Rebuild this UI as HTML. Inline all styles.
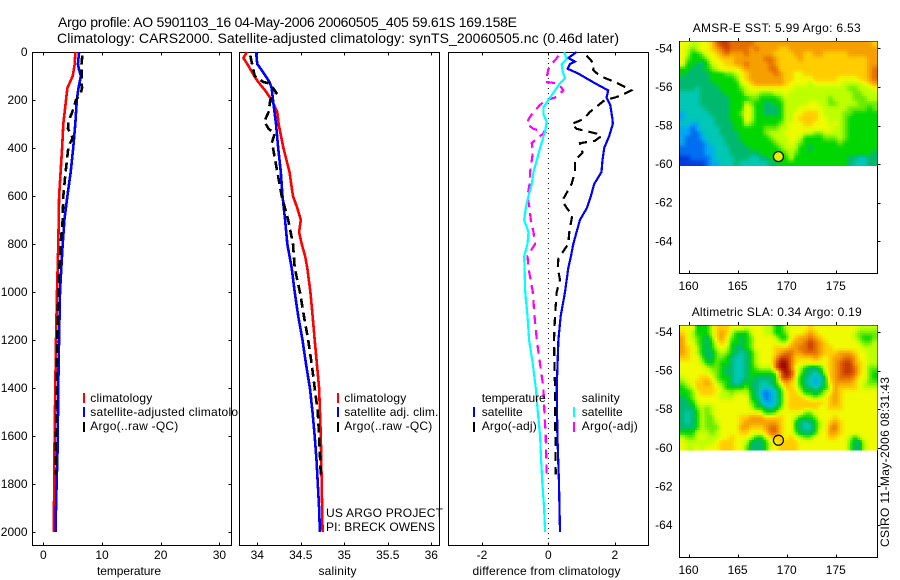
<!DOCTYPE html>
<html>
<head>
<meta charset="utf-8">
<title>Argo profile</title>
<style>
html,body{margin:0;padding:0;background:#fff;}
svg{display:block;}
text{font-family:"Liberation Sans",sans-serif;font-size:12px;fill:#000;}
</style>
</head>
<body>
<svg id="chart" xmlns="http://www.w3.org/2000/svg" width="900" height="580" viewBox="0 0 900 580">
<rect width="900" height="580" fill="#fff"/>
<text x="58" y="27" style="font-size:14px" textLength="459" lengthAdjust="spacing">Argo profile: AO 5901103_16 04-May-2006 20060505_405 59.61S 169.158E</text>
<text x="57" y="43" style="font-size:14px" textLength="562" lengthAdjust="spacing">Climatology: CARS2000. Satellite-adjusted climatology: synTS_20060505.nc (0.46d later)</text>

<g id="p1"></g>
<g>
  <line x1="84" x2="84" y1="393" y2="403" stroke="#f00" stroke-width="2"/>
  <line x1="84" x2="84" y1="407" y2="417" stroke="#00f" stroke-width="2"/>
  <line x1="84" x2="84" y1="422" y2="432" stroke="#000" stroke-width="2"/>
  <text x="90.3" y="402" textLength="62">climatology</text>
  <text x="90.3" y="416" textLength="161">satellite-adjusted climatology</text>
  <text x="90.3" y="430" textLength="88">Argo(..raw -QC)</text>
</g>

<rect x="239.5" y="52.5" width="200" height="493" fill="#fff"/>
<g id="p2"></g>
<g>
  <line x1="338" x2="338" y1="393" y2="403" stroke="#f00" stroke-width="2"/>
  <line x1="338" x2="338" y1="407" y2="417" stroke="#00f" stroke-width="2"/>
  <line x1="338" x2="338" y1="422" y2="432" stroke="#000" stroke-width="2"/>
  <text x="344.3" y="402" textLength="62">climatology</text>
  <text x="344.3" y="416" textLength="94">satellite adj. clim.</text>
  <text x="344.3" y="430" textLength="88">Argo(..raw -QC)</text>
  <text x="326" y="517" textLength="117">US ARGO PROJECT</text>
  <text x="326" y="531" textLength="109">PI: BRECK OWENS</text>
</g>

<rect x="448.5" y="52.5" width="200" height="493" fill="#fff"/>
<g id="p3"></g>
<g>
  <text x="481.7" y="402" textLength="64">temperature</text>
  <text x="581.7" y="402" textLength="38">salinity</text>
  <line x1="474" x2="474" y1="407" y2="417" stroke="#00f" stroke-width="2"/>
  <line x1="474" x2="474" y1="422" y2="432" stroke="#000" stroke-width="2"/>
  <line x1="574" x2="574" y1="407" y2="417" stroke="#0ff" stroke-width="2"/>
  <line x1="574" x2="574" y1="422" y2="432" stroke="#f0f" stroke-width="2"/>
  <text x="481.7" y="416" textLength="41">satellite</text>
  <text x="481.7" y="430" textLength="55">Argo(-adj)</text>
  <text x="581.7" y="416" textLength="41">satellite</text>
  <text x="581.7" y="430" textLength="56">Argo(-adj)</text>
</g>

<text x="97" y="575" textLength="64">temperature</text>
<text x="318.5" y="575" textLength="38">salinity</text>
<text x="472.5" y="575" textLength="148">difference from climatology</text>

<text x="692.7" y="32" textLength="168">AMSR-E SST: 5.99 Argo: 6.53</text>
<g id="m1"></g>
<text x="691.7" y="316" textLength="170">Altimetric SLA: 0.34 Argo: 0.19</text>
<g id="m2"></g>

<text transform="translate(889,547) rotate(-90)" x="0" y="0" textLength="170">CSIRO 11-May-2006 08:31:43</text>
</svg>

<script>
// Depth ticks and axis tick labels
const depthTicks = [0,200,400,600,800,1000,1200,1400,1600,1800,2000];
const tempTicks = [0,10,20,30];
const salTicks = [34,34.5,35,35.5,36];
const diffTicks = [-2,0,2];
const lonTicks = [160,165,170,175];
const latTicks = [-54,-56,-58,-60,-62,-64];

// Temperature profiles
const climTempDepth = [0,50,100,150,200,300,400,500,600,800,1000,1200,1400,1600,1800,2000];
const climTemp = [5.45,5.35,5.0,4.1,3.86,3.4,3.2,2.95,2.7,2.55,2.33,2.16,2.05,1.93,1.88,1.76];
const satTempDepth = [0,50,75,100,150,200,300,400,500,600,700,800,900,1000,1150,1300,1500,1650,1800,1900,2000];
const satTemp = [6.1,5.9,6.1,6.4,6.0,5.7,5.45,5.1,4.66,4.1,3.6,3.3,3.07,2.84,2.73,2.6,2.5,2.44,2.27,2.16,2.1];
const argoTempDepth = [15,50,100,150,170,200,250,290,320,340,360,380,400,500,600,700,800,900,1000,1200,1400,1600,1760];
const argoTemp = [6.65,6.5,6.53,6.6,6.4,5.57,4.94,4.26,4.2,4.66,5,4.55,4.26,3.8,3.4,3.3,2.95,2.73,2.56,2.39,2.27,2.16,2.1];

// Salinity profiles
const climSalDepth = [0,25,50,100,125,160,200,250,300,400,500,550,600,650,700,750,800,850,900,1000,1100,1200,1400,1600,1800,2000];
const climSal = [33.88,33.84,33.885,33.965,34.01,34.09,34.165,34.23,34.245,34.3,34.37,34.39,34.41,34.46,34.5,34.48,34.51,34.55,34.575,34.61,34.636,34.66,34.71,34.73,34.74,34.75];
const satSalDepth = [0,50,75,100,125,150,200,300,400,500,600,700,800,900,1000,1100,1200,1300,1400,1500,1600,1700,1800,1900,2000];
const satSal = [33.985,34,34.05,34.095,34.14,34.165,34.18,34.215,34.24,34.27,34.29,34.32,34.345,34.395,34.43,34.47,34.52,34.56,34.605,34.635,34.66,34.68,34.695,34.71,34.72];
const argoSalDepth = [15,50,100,125,130,150,170,190,200,250,290,320,340,380,400,500,600,700,800,900,1000,1100,1200,1300,1400,1500,1600,1760];
const argoSal = [33.92,33.94,33.97,34.07,34.13,34.18,34.22,34.165,34.15,34.13,34.08,34.13,34.2,34.165,34.18,34.23,34.28,34.355,34.41,34.43,34.49,34.536,34.585,34.625,34.66,34.695,34.71,34.73];

// Differences from climatology
const satDiffTDepth = [0,10,25,40,50,70,90,110,130,160,190,220,280,300,350,400,450,500,550,600,650,700,750,800,850,900,1000,1100,1200,1400,1600,1800,2000];
const satDiffT = [0.85,0.75,0.6,0.8,0.65,0.58,0.9,1.15,1.4,1.8,1.75,1.86,1.93,1.94,1.83,1.68,1.63,1.6,1.38,1.28,1.16,0.95,0.85,0.75,0.68,0.6,0.5,0.37,0.3,0.25,0.27,0.32,0.35];
const argoDiffTDepth = [15,50,75,100,125,150,160,180,190,200,250,280,300,320,340,350,370,380,420,450,500,550,620,650,680,750,800,860,900,950,1000,1100,1200,1400,1760];
const argoDiffT = [1.15,1.38,1.35,1.55,2.0,2.36,2.5,2.2,2.0,1.7,1.25,1.05,0.7,0.85,1.45,1.6,1.4,0.95,1.03,0.8,0.8,0.7,0.42,0.55,0.72,0.63,0.6,0.3,0.28,0.35,0.25,0.2,0.17,0.2,0.22];
const satDiffSDepth = [0,30,50,80,110,130,160,200,230,260,290,330,400,450,500,550,600,650,700,750,800,850,1000,1100,1200,1300,1400,1500,1600,1700,1800,1900,2000];
const satDiffS = [0.48,0.55,0.4,0.43,0.5,0.35,0.2,0,-0.15,-0.15,-0.05,-0.1,-0.25,-0.35,-0.45,-0.5,-0.6,-0.68,-0.73,-0.6,-0.63,-0.73,-0.7,-0.63,-0.58,-0.47,-0.38,-0.32,-0.25,-0.22,-0.18,-0.13,-0.1];
const argoDiffSDepth = [15,30,50,70,90,110,125,130,150,160,190,200,220,250,280,300,320,335,360,380,420,450,500,550,600,650,700,750,800,850,900,1000,1100,1200,1300,1400,1500,1600,1760];
const argoDiffS = [0.3,0.23,0.1,0,-0.03,-0.05,-0.07,0.25,0.4,0.45,0.2,-0.05,-0.25,-0.45,-0.6,-0.65,-0.45,-0.1,-0.35,-0.5,-0.47,-0.5,-0.55,-0.57,-0.63,-0.57,-0.53,-0.45,-0.4,-0.63,-0.6,-0.47,-0.42,-0.35,-0.25,-0.15,-0.12,-0.08,-0.05];

// Map grids: colour class per cell (0 = coldest/lowest .. 13 = warmest/highest), rows north to south
const sstGrid = [
[8,8,7,7,8,8,9,11,12,12,11,11,11,11,11,10,10,10,10,10,10,10,10,10,10,10,10,10,10,10,10,10,10,10,10,10,10,10,10,9],
[8,7,6,7,8,8,9,10,11,12,11,11,11,11,10,11,10,10,10,10,9,9,10,10,10,10,10,10,10,10,10,10,10,10,10,10,10,10,10,10],
[8,7,5,5,6,8,8,9,10,11,10,10,10,11,10,10,10,10,10,9,9,9,9,10,10,9,9,10,10,9,9,9,9,9,10,10,10,10,10,10],
[8,6,5,5,5,6,8,8,9,9,9,10,10,10,10,10,10,11,11,10,9,9,9,9,10,9,9,9,9,9,9,9,9,9,9,9,9,9,10,10],
[8,5,5,4,4,5,7,8,8,9,9,10,10,11,10,10,10,10,11,10,9,9,9,9,9,9,9,9,9,9,9,9,9,9,9,9,9,9,10,10],
[5,5,4,4,4,5,6,7,8,8,8,8,9,10,10,10,10,10,11,11,9,9,9,9,9,9,9,9,9,9,9,9,9,9,9,9,9,9,10,11],
[5,4,4,4,4,4,5,5,5,6,6,7,8,9,10,10,10,10,10,11,10,9,9,8,8,9,9,9,9,9,9,9,9,9,9,9,9,9,10,11],
[4,4,4,4,4,4,5,5,5,5,5,6,8,9,10,10,10,10,10,10,10,9,9,8,8,8,8,9,9,9,9,9,8,8,8,8,9,9,10,11],
[4,4,4,4,4,4,4,5,5,5,5,5,7,8,9,10,10,10,10,10,10,9,8,8,8,8,7,8,8,8,8,8,8,7,7,7,7,8,9,10],
[4,4,4,3,4,4,4,4,5,5,5,5,6,7,8,8,8,8,8,8,8,8,8,7,7,7,7,7,7,7,7,7,7,7,6,6,7,7,7,8],
[3,3,3,3,4,4,4,4,4,5,5,5,5,7,7,7,6,6,6,7,7,8,7,7,7,7,7,7,7,7,7,7,7,7,7,6,6,7,7,7],
[3,3,3,3,4,4,4,4,4,4,5,5,5,5,6,6,5,5,5,5,6,7,7,7,7,7,7,7,7,7,6,7,7,7,7,6,6,6,7,7],
[3,3,3,3,4,4,4,4,4,4,5,5,5,7,6,5,5,4,4,5,5,7,7,7,7,7,8,8,7,7,6,6,7,7,7,7,6,6,6,6],
[3,3,3,3,3,4,4,4,4,4,5,5,5,8,7,5,5,4,4,4,5,7,7,7,8,8,8,8,8,7,7,7,7,7,6,6,6,6,5,6],
[2,3,3,3,3,3,4,4,4,4,5,5,6,8,7,5,5,4,4,4,5,7,7,8,8,9,9,9,8,7,7,7,7,6,6,5,5,5,5,5],
[2,3,3,3,3,3,3,4,4,4,5,5,5,8,7,5,5,5,5,5,5,7,7,8,9,9,9,9,8,8,7,7,7,6,5,5,5,5,5,5],
[3,3,2,2,3,3,3,4,4,4,4,5,5,7,6,5,5,5,5,5,6,7,8,8,8,9,9,8,8,8,7,8,7,6,5,5,5,5,5,5],
[2,2,1,2,3,3,3,3,4,4,4,5,5,5,5,5,5,6,6,6,7,7,8,8,8,8,8,8,8,8,8,7,7,6,5,5,5,5,5,5],
[2,2,1,1,2,3,3,3,4,4,4,4,5,5,5,5,5,6,7,7,7,8,8,8,8,7,7,6,6,7,7,7,7,6,5,5,5,5,5,5],
[2,1,1,1,2,3,3,3,3,4,4,4,5,5,5,5,5,5,6,7,7,7,8,8,7,5,5,5,5,6,6,6,7,6,5,5,5,5,5,5],
[2,1,1,1,1,2,3,3,3,4,4,4,4,5,5,5,5,5,5,6,7,7,8,7,6,5,5,5,5,5,5,5,6,5,5,5,5,5,5,5],
[1,1,1,1,1,2,2,3,3,3,4,4,4,4,5,5,5,5,5,5,6,7,7,7,5,5,4,5,5,5,5,5,5,5,5,5,5,5,5,5],
[1,1,1,1,1,2,2,3,3,3,4,4,4,4,4,4,5,5,5,5,5,6,7,6,5,5,5,5,5,5,5,5,5,5,5,5,5,5,5,4],
[0,0,1,1,1,1,2,3,3,3,3,4,4,4,3,3,4,4,5,5,5,5,7,5,5,5,5,5,5,5,5,5,5,5,4,4,3,3,4,4],
[0,0,0,0,0,1,2,2,3,3,3,4,3,3,3,3,3,3,4,4,5,5,5,5,5,5,5,5,5,5,5,5,5,5,4,3,3,3,4,4]
];
const slaGrid = [
[8,8,8,5,5,5,7,9,9,9,8,8,8,7,8,8,8,7,7,5,5,7,8,8,8,8,9,8,8,8,8,8,8,8,8,8,7,7,7,7],
[9,8,7,5,5,5,7,9,10,9,7,5,5,5,7,8,8,7,7,5,5,6,8,8,8,9,10,9,8,8,8,8,8,8,8,7,6,6,6,6],
[10,8,7,6,5,4,6,9,10,8,6,5,4,5,6,8,8,8,8,7,5,5,8,9,10,10,11,10,9,8,8,8,8,8,8,7,6,5,5,6],
[10,8,8,6,5,4,5,8,9,8,5,5,4,5,6,8,8,8,8,8,7,7,9,10,10,11,12,11,10,9,8,8,8,8,8,8,7,6,6,7],
[10,9,8,7,5,4,5,7,8,7,5,4,4,5,6,8,8,8,8,9,9,9,10,10,11,11,12,11,10,9,9,8,8,8,8,8,8,7,7,7],
[10,9,8,7,5,4,4,6,7,6,5,4,3,4,5,7,8,8,8,9,10,11,11,10,10,11,11,11,10,9,9,9,10,10,10,9,8,8,7,7],
[9,9,8,8,6,4,4,6,6,5,4,3,3,4,5,7,8,8,8,10,12,12,11,9,9,9,9,10,9,8,9,10,10,11,11,10,8,8,7,7],
[8,8,8,8,7,5,5,6,5,5,4,3,3,4,5,7,8,8,8,11,13,13,11,9,8,8,8,8,8,8,9,10,11,12,12,10,9,8,7,7],
[8,8,8,8,8,7,6,6,5,4,4,3,3,4,5,6,7,7,7,11,13,13,11,8,7,5,4,4,5,8,9,10,11,12,12,11,9,8,6,6],
[8,8,8,8,8,8,7,6,5,4,4,3,3,4,5,5,5,5,5,6,11,13,12,9,6,4,4,3,4,7,9,10,11,12,12,11,9,8,6,5],
[7,8,8,8,9,9,8,6,5,5,4,3,3,4,5,4,4,4,4,5,11,12,11,8,5,4,3,2,3,5,9,10,11,11,11,10,8,8,6,5],
[6,7,8,9,9,10,9,7,6,5,4,3,4,5,4,4,3,3,4,5,8,10,9,8,5,4,3,2,3,5,8,10,10,10,10,9,8,7,6,6],
[5,6,7,9,9,9,9,8,7,5,5,5,5,6,4,4,3,3,3,4,6,9,9,8,6,4,4,3,4,5,7,10,9,9,9,9,8,7,7,7],
[5,5,6,8,9,9,9,8,7,7,6,7,7,7,5,4,2,1,2,3,5,8,9,9,7,5,5,4,5,7,8,10,9,8,8,8,8,8,8,8],
[4,5,6,8,8,8,8,8,7,7,7,8,8,8,5,4,3,1,2,3,5,8,9,9,9,8,7,6,7,8,9,10,9,8,8,8,8,8,8,8],
[4,4,5,7,8,8,8,8,8,8,8,8,8,8,6,5,3,2,2,3,5,8,9,9,9,9,9,9,9,8,9,10,9,8,8,8,8,8,8,8],
[4,4,4,6,7,6,7,8,8,8,8,8,8,8,7,5,5,4,3,4,6,8,9,9,9,9,9,9,8,8,9,9,9,8,8,8,8,8,8,8],
[4,3,4,5,7,6,7,8,8,8,8,8,8,8,8,8,7,5,5,6,8,8,8,8,8,6,6,8,8,8,8,8,8,8,8,8,8,8,8,8],
[4,3,4,5,7,6,6,8,8,8,8,8,9,9,10,10,10,9,9,9,9,8,8,7,5,5,5,6,8,8,8,9,8,8,8,8,8,8,8,8],
[4,3,4,5,7,6,6,7,8,8,8,8,9,10,10,10,10,10,10,10,9,8,8,5,4,3,4,5,7,8,9,10,9,8,8,8,8,8,8,8],
[4,4,4,5,7,6,6,6,8,8,8,8,10,10,9,9,9,10,11,11,9,8,8,5,4,3,3,5,7,8,10,11,9,8,8,8,8,8,8,8],
[5,5,5,7,7,7,6,7,8,8,8,8,9,9,8,8,8,9,11,11,9,8,8,6,4,4,4,5,8,8,10,10,9,8,8,8,8,8,8,8],
[7,6,6,7,8,7,7,7,8,8,9,8,8,8,7,5,5,7,9,9,9,8,9,8,7,6,6,8,8,8,9,9,8,8,7,5,7,8,8,8],
[8,7,7,7,7,7,7,8,9,9,9,8,8,7,4,4,4,5,8,8,9,9,9,9,8,8,8,8,8,8,8,8,8,8,6,4,4,7,8,8],
[8,7,7,8,7,8,8,8,9,9,9,8,8,6,4,4,4,5,8,8,9,9,9,9,8,8,8,8,8,8,8,8,8,8,6,4,4,7,8,8]
];
const floatLon = [169.158];
const floatLat = [-59.61];

const NS = 'http://www.w3.org/2000/svg';
const colormap = [[0,60,220],[0,110,240],[0,170,240],[0,200,180],[0,185,110],[0,215,0],[110,235,0],[190,255,0],[240,250,0],[255,205,0],[245,160,0],[230,110,0],[200,60,0],[160,10,0]];
function colorOf(v){
  const i = Math.max(0, Math.min(12, Math.floor(v)));
  const f = Math.max(0, Math.min(1, v - i));
  const a = colormap[i], b = colormap[i+1];
  return 'rgb(' + a.map((q,k) => Math.round(q + (b[k]-q)*f)).join(',') + ')';
}
function sampleGrid(grid, gx, gy){
  const nR = grid.length, nC = grid[0].length;
  gx = Math.max(0, Math.min(nC-1, gx));
  gy = Math.max(0, Math.min(nR-1, gy));
  const c0 = Math.floor(gx), r0 = Math.floor(gy);
  const c1 = Math.min(nC-1, c0+1), r1 = Math.min(nR-1, r0+1);
  const u = gx-c0, w = gy-r0;
  return (grid[r0][c0]*(1-u)+grid[r0][c1]*u)*(1-w) + (grid[r1][c0]*(1-u)+grid[r1][c1]*u)*w;
}

function mk(parent, tag, attrs, txt){
  const e = document.createElementNS(NS, tag);
  for (const k in attrs) e.setAttribute(k, attrs[k]);
  if (txt !== undefined) e.textContent = txt;
  parent.appendChild(e);
  return e;
}
const depthY = d => 52 + 0.24 * d;
const tempX = v => 43.3 + 5.87 * v;
const salX = v => 257.3 + 87 * (v - 34);
const diffX = v => 548.4 + 33.2 * v;
const lonX = v => 688.5 + 9.82 * (v - 160);

function drawPanel(g, x0, x1, xScale, ticks, yLabels){
  const yT = 52.5, yB = 545.5;
  for (const t of ticks){
    const x = Math.round(xScale(t)) + 0.5;
    const top = mk(g, 'line', {x1:x, x2:x, y1:yT, y2:yT+3, stroke:'#000'});
    
    
    const bot = mk(g, 'line', {x1:x, x2:x, y1:yB, y2:yB-3, stroke:'#000'});
    
    
    const lab = mk(g, 'text', {x:xScale(t), y:559, 'text-anchor':'middle'}, String(t));
    
    
  }
  if (yLabels){
    for (const d of depthTicks){
      const y = Math.round(depthY(d)) + 0.5;
      const l = mk(g, 'line', {x1:x0, x2:x0+3, y1:y, y2:y, stroke:'#000'});
      
      
      const r = mk(g, 'line', {x1:x1, x2:x1-3, y1:y, y2:y, stroke:'#000'});
      
      
      const lab = mk(g, 'text', {x:27.5, y:depthY(d)+4, 'text-anchor':'end'}, String(d));
      
      
    }
  }
  const box = mk(g, 'rect', {x:x0, y:yT, width:x1-x0, height:yB-yT, fill:'none', stroke:'#000'});
  
  
}
function drawLine(g, depths, vals, xScale, color, dash, width, name){
  const pts = vals.map((v,i) => xScale(v).toFixed(1) + ',' + depthY(depths[i]).toFixed(1)).join(' ');
  const attrs = {points:pts, fill:'none', stroke:color, 'stroke-width':width, 'shape-rendering':'crispEdges'};
  if (dash) attrs['stroke-dasharray'] = dash;
  const p = mk(g, 'polyline', attrs);
  
  
}

const p1 = document.getElementById('p1');
drawPanel(p1, 32.5, 231.5, tempX, tempTicks, true);
drawLine(p1, climTempDepth, climTemp, tempX, '#f00', null, 2.6, 'climatology-temperature-line');
drawLine(p1, satTempDepth, satTemp, tempX, '#00f', null, 2.6, 'satellite-temperature-line');
drawLine(p1, argoTempDepth, argoTemp, tempX, '#000', '9,5', 2.6, 'argo-temperature-line');

const p2 = document.getElementById('p2');
drawPanel(p2, 239.5, 439.5, salX, salTicks, false);
drawLine(p2, climSalDepth, climSal, salX, '#f00', null, 2.6, 'climatology-salinity-line');
drawLine(p2, satSalDepth, satSal, salX, '#00f', null, 2.6, 'satellite-salinity-line');
drawLine(p2, argoSalDepth, argoSal, salX, '#000', '9,5', 2.6, 'argo-salinity-line');

const p3 = document.getElementById('p3');
drawPanel(p3, 448.5, 648.5, diffX, diffTicks, false);
const zero = mk(p3, 'line', {x1:diffX(0), x2:diffX(0), y1:53, y2:545, stroke:'#000', 'stroke-dasharray':'1,4'});


drawLine(p3, satDiffTDepth, satDiffT, diffX, '#00f', null, 2.2, 'satellite-temperature-difference-line');
drawLine(p3, argoDiffTDepth, argoDiffT, diffX, '#000', '9,6', 2.2, 'argo-temperature-difference-line');
drawLine(p3, argoDiffSDepth, argoDiffS, diffX, '#f0f', '9,6', 2.2, 'argo-salinity-difference-line');
drawLine(p3, satDiffSDepth, satDiffS, diffX, '#0ff', null, 2.2, 'satellite-salinity-difference-line');

function drawMap(g, grid, top, imgTop, imgBottom, bottom, lat54Y, labelY, circleFill){
  const latY = v => lat54Y + 19.3 * (-54 - v);
  const xL = 679.5, xR = 877.5;
  const frame = mk(g, 'rect', {x:xL, y:top, width:xR-xL, height:bottom-top, fill:'#fff', stroke:'#000'});
  
  
  for (const t of lonTicks){
    const x = Math.round(lonX(t)) + 0.5;
    const tk = mk(g, 'line', {x1:x, x2:x, y1:bottom, y2:bottom-3, stroke:'#000'});
    
    
    const tp = mk(g, 'line', {x1:x, x2:x, y1:top-0.5, y2:top-3.5, stroke:'#000'});
    
    
    const lab = mk(g, 'text', {x:lonX(t), y:labelY, 'text-anchor':'middle'}, String(t));
    
    
  }
  for (const t of latTicks){
    const y = Math.round(latY(t)) + 0.5;
    const tk = mk(g, 'line', {x1:xR, x2:xR+3, y1:y, y2:y, stroke:'#000'});
    
    
    const lab = mk(g, 'text', {x:672.5, y:latY(t)+4, 'text-anchor':'end'}, String(t));
    
    
  }
  const nR = grid.length, nC = grid[0].length, sub = 2;
  const cw = (877 - 680) / nC / sub, ch = (imgBottom - imgTop) / nR / sub;
  for (let r = 0; r < nR*sub; r++){
    for (let c = 0; c < nC*sub; c++){
      const v = sampleGrid(grid, (c+0.5)/sub-0.5, (r+0.5)/sub-0.5);
      const cell = mk(g, 'rect', {x:(680 + c*cw).toFixed(2), y:(imgTop + r*ch).toFixed(2), width:(cw+0.4).toFixed(2), height:(ch+0.4).toFixed(2), fill:colorOf(v), 'shape-rendering':'crispEdges'});
      
      
    }
  }
  const ci = mk(g, 'circle', {cx:lonX(floatLon[0]), cy:latY(floatLat[0]), r:5, fill:circleFill, stroke:'#000', 'stroke-width':1.2});
  
  
}
drawMap(document.getElementById('m1'), sstGrid, 41.5, 41.5, 165.5, 273.5, 48.3, 290, '#e6f000');
drawMap(document.getElementById('m2'), slaGrid, 325.5, 325.5, 450, 557.5, 332, 574, 'none');
</script>
</body>
</html>
